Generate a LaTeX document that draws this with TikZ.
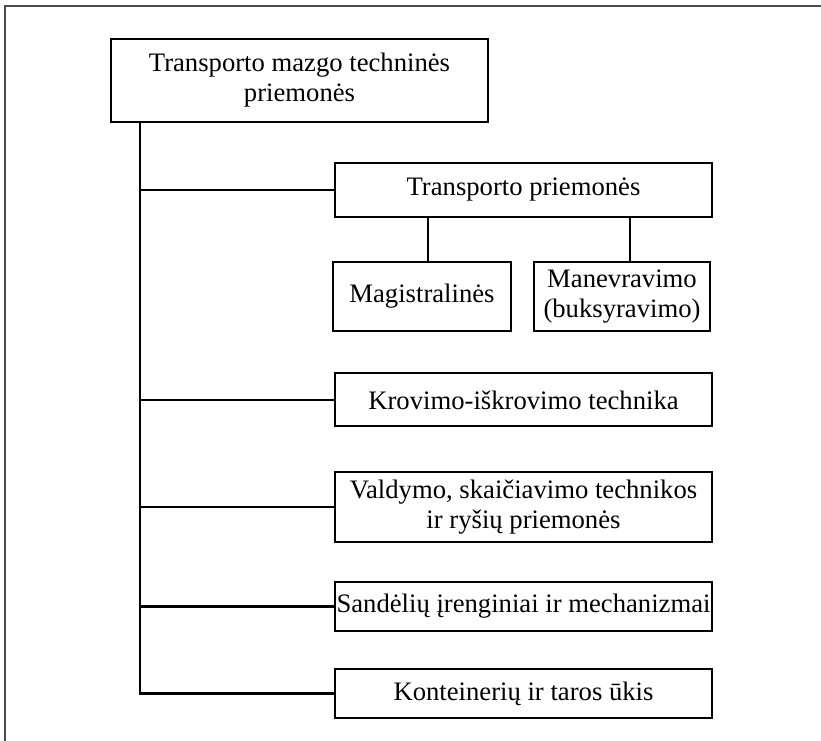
\documentclass[tikz,border=0pt]{standalone}
\usepackage{fontspec}
\setmainfont{Liberation Serif}
\begin{document}
\begin{tikzpicture}[x=0.75pt,y=-0.75pt,
  box/.style={draw=black, line width=1.5pt, fill=white, inner sep=0pt, align=center,
    font=\fontsize{20pt}{22.5pt}\selectfont},
  conn/.style={draw=black, line width=2pt},
  frame/.style={draw=black!70, line width=1.5pt}]
\useasboundingbox (0,0) rectangle (821,741);
\draw[frame] (5,741) -- (5,6) -- (821,6);

\node[box, minimum width=282.75pt, minimum height=62.25pt] (top) at (299.5,80.5) {Transporto mazgo techninės\\priemonės};
\node[box, minimum width=282.75pt, minimum height=40.5pt] (tp) at (523.5,190) {Transporto priemonės};
\node[box, minimum width=133.5pt, minimum height=51.75pt] (magi) at (422,296.5) {Magistralinės};
\node[box, minimum width=132pt, minimum height=51.75pt] (mane) at (622,296.5) {Manevravimo\\(buksyravimo)};
\node[box, minimum width=282.75pt, minimum height=39.75pt] (krov) at (523.5,400) {Krovimo-iškrovimo technika};
\node[box, minimum width=282.75pt, minimum height=52.5pt] (vald) at (523.5,507) {Valdymo, skaičiavimo technikos\\ir ryšių priemonės};
\node[box, minimum width=282.75pt, minimum height=36.75pt] (sand) at (523.5,606.5) {Sandėlių įrenginiai ir mechanizmai};
\node[box, minimum width=282.75pt, minimum height=36.75pt] (kont) at (523.5,693.5) {Konteinerių ir taros ūkis};

\coordinate (t0) at (140,0);
\coordinate (c1) at (428,0);
\coordinate (c2) at (630,0);

\draw[conn] (t0 |- top.south) |- (kont.west);
\draw[conn] (t0 |- tp.west) -- (tp.west);
\draw[conn] (t0 |- krov.west) -- (krov.west);
\draw[conn] (t0 |- vald.west) -- (vald.west);
\draw[conn] (t0 |- sand.west) -- (sand.west);
\draw[conn] (c1 |- tp.south) -- (c1 |- magi.north);
\draw[conn] (c2 |- tp.south) -- (c2 |- mane.north);
\end{tikzpicture}
\end{document}
